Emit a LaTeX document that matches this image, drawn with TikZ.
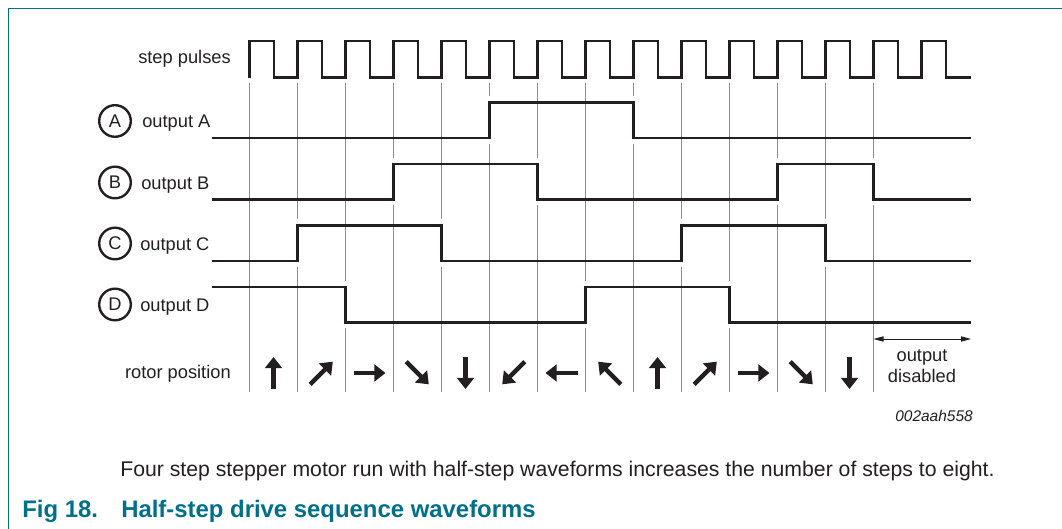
\documentclass[tikz,border=0pt]{standalone}
\usepackage{fontspec}
\setmainfont{Liberation Sans}
\usetikzlibrary{arrows.meta,positioning,calc}
\definecolor{nxpteal}{RGB}{0,112,138}
\definecolor{ink}{RGB}{35,31,32}
\definecolor{gridgray}{RGB}{140,140,140}

\tikzset{
  sig/.style={draw=ink, line width=1.9pt},
  gridline/.style={draw=gridgray, line width=0.9pt},
  lbl/.style={inner sep=0, text=ink, font=\fontsize{13}{15}\selectfont},
  chan/.style={draw=ink, circle, line width=1.7pt, minimum size=7.9mm, inner sep=0, text=ink, font=\fontsize{13}{15}\selectfont},
  rotor/.style={draw=ink, line width=3.2pt, -{Triangle[length=2.8mm,width=4.2mm]}},
}

\begin{document}
\begin{tikzpicture}[x=0.25mm, y=-0.25mm]
            \useasboundingbox (0,0) rectangle (1062,529);
            \draw[nxpteal, line width=0.9pt] (1062,8.3) -- (8.3,8.3) -- (8.3,529);

            % labels on the left
            \node[lbl, anchor=base east] (pulselbl) at (231,64) {step pulses};
            \node[chan] (chA) at (115,121) {A};
            \node[chan] (chB) at (115,182.5) {B};
            \node[chan] (chC) at (115,243.5) {C};
            \node[chan] (chD) at (115,304.5) {D};
            \node[lbl, anchor=base west] (outA) at (142,128) {output A};
            \node[lbl, anchor=base west] (outB) at (141,189.3) {output B};
            \node[lbl, anchor=base west] (outC) at (140,250.5) {output C};
            \node[lbl, anchor=base west] (outD) at (140,311.7) {output D};
            \node[lbl, anchor=base east] (rotorlbl) at (231,379) {rotor position};

            % grid, broken where a channel switches
            \draw[gridline] (249.5,83) -- (249.5,391.5);
            \foreach \k/\ch in {1/3,2/4,3/2,4/3,5/1,6/2,7/4,8/1,9/3,10/4,11/2,12/3,13/2} {
              \pgfmathsetmacro\gx{249.5+48*\k}
              \pgfmathsetmacro\lo{138+61.5*(\ch-1)}
              \draw[gridline] (\gx,83) -- (\gx,\lo-41.5) (\gx,\lo+6) -- (\gx,391.5);
            }

            % step pulses
            \draw[sig] (249.5,77.7) \foreach \k in {0,...,14} {-- ++(0,-36.7) -- ++(24.5,0) -- ++(0,36.7) -- ++(23.5,0)} -- ++(1.5,0);

            % outputs
            \draw[sig] (212,138) -- (489.5,138) -- (489.5,102.5) -- (633.5,102.5) -- (633.5,138) -- (971,138);
            \draw[sig] (212,199.5) -- (393.5,199.5) -- (393.5,164) -- (537.5,164) -- (537.5,199.5)
                       -- (777.5,199.5) -- (777.5,164) -- (873.5,164) -- (873.5,199.5) -- (971,199.5);
            \draw[sig] (212,261) -- (297.5,261) -- (297.5,225.5) -- (441.5,225.5) -- (441.5,261)
                       -- (681.5,261) -- (681.5,225.5) -- (825.5,225.5) -- (825.5,261) -- (971,261);
            \draw[sig] (212,287) -- (345.5,287) -- (345.5,322.5) -- (585.5,322.5) -- (585.5,287)
                       -- (729.5,287) -- (729.5,322.5) -- (971,322.5);

            % rotor arrows
            \foreach \a [count=\i from 0] in {-90,-45,0,45,90,135,180,225,-90,-45,0,45,90}
              \draw[rotor] ($(273.5+48*\i,373)+(\a+180:16)$) -- ($(273.5+48*\i,373)+(\a:16)$);

            % output disabled
            \coordinate (offL) at (873.5,339);
            \coordinate (offR) at (971,339);
            \draw[ink, line width=0.6pt, {Triangle[length=2.5mm,width=1.3mm]}-{Triangle[length=2.5mm,width=1.3mm]}] (offL) -- (offR);
            \node[lbl, anchor=base] (dis1) at (922,361.5) {output};
            \node[lbl, anchor=base] (dis2) at (922,382.5) {disabled};

            \node[lbl, anchor=base east, font=\fontsize{11}{13}\selectfont\itshape] (figid) at (973,421) {002aah558};

            % caption
            \node[lbl, anchor=base west, font=\fontsize{15.1}{18}\selectfont] (caption) at (120,476)
                 {Four step stepper motor run with half-step waveforms increases the number of steps to eight.};
            \node[lbl, anchor=base west, text=nxpteal, font=\fontsize{17}{20}\selectfont\bfseries] (figno) at (22,517.5) {Fig 18.};
            \node[lbl, anchor=base west, text=nxpteal, font=\fontsize{17}{20}\selectfont\bfseries] (figtitle) at (121,517.5) {Half-step drive sequence waveforms};
        \end{tikzpicture}
\end{document}
